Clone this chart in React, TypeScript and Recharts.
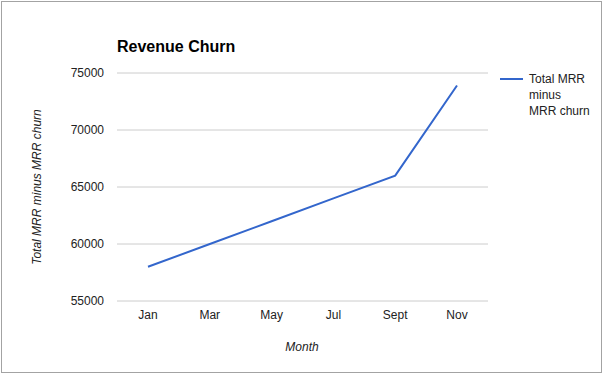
import { CartesianGrid, Line, LineChart, XAxis, YAxis } from "recharts";

const months = ["Jan", "Mar", "May", "Jul", "Sept", "Nov"];
const mrrNet = [58000, 60000, 62000, 64000, 66000, 73900];
const yTicks = [55000, 60000, 65000, 70000, 75000];

const data = months.map((m, i) => ({ month: m, value: mrrNet[i] }));

const font = "'Liberation Sans', Arial, sans-serif";
const tick = { fill: "#222", fontSize: 12, fontFamily: font };
const blue = "#3366cc";

export default function App() {
  return (
    <div style={{ position: "absolute", left: 0, top: 0, width: 604, height: 375, background: "#fff", fontFamily: font }}>
      <div style={{ position: "absolute", left: 1, top: 1, width: 601, height: 372, boxSizing: "border-box", border: "1px solid #a3a3a3" }} />
      <LineChart width={604} height={375} data={data} margin={{ top: 73, right: 116, bottom: 44, left: 0 }}>
        <CartesianGrid vertical={false} stroke="#cccccc" />
        <XAxis
          dataKey="month"
          axisLine={false}
          tickLine={false}
          tickSize={0}
          tickMargin={9}
          height={30}
          padding={{ left: 31, right: 31 }}
          tick={tick}
        />
        <YAxis
          domain={[55000, 75000]}
          ticks={yTicks}
          axisLine={false}
          tickLine={false}
          tickSize={0}
          tickMargin={13}
          width={117}
          tick={tick}
        />
        <Line type="linear" dataKey="value" stroke={blue} strokeWidth={2} dot={false} isAnimationActive={false} />
      </LineChart>
      <div style={{ position: "absolute", left: 117, top: 37, fontSize: 16, fontWeight: "bold", color: "#000", lineHeight: "20px" }}>
        Revenue Churn
      </div>
      <div
        style={{
          position: "absolute",
          left: 37,
          top: 187,
          transform: "translate(-50%, -50%) rotate(-90deg)",
          whiteSpace: "nowrap",
          fontSize: 12,
          fontStyle: "italic",
          color: "#222",
          lineHeight: "14px",
        }}
      >
        Total MRR minus MRR churn
      </div>
      <div style={{ position: "absolute", left: 302, top: 347, transform: "translate(-50%, -50%)", fontSize: 12, fontStyle: "italic", color: "#222", lineHeight: "14px" }}>
        Month
      </div>
      <div style={{ position: "absolute", left: 500, top: 71, display: "flex", alignItems: "flex-start" }}>
        <div style={{ width: 23, height: 2, background: blue, marginTop: 7, marginRight: 6 }} />
        <div style={{ fontSize: 12, color: "#222", lineHeight: "16px" }}>
          Total MRR
          <br />
          minus
          <br />
          MRR churn
        </div>
      </div>
    </div>
  );
}
